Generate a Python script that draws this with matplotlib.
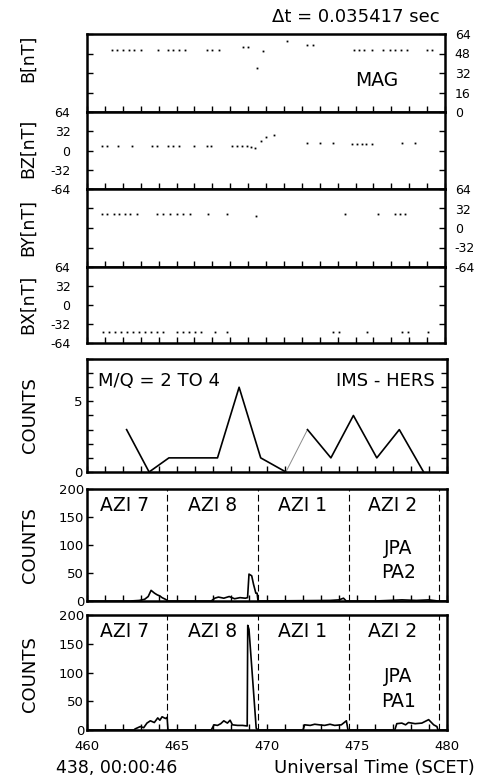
import matplotlib.pyplot as plt

# --- data ---
b_t = [461.4, 461.7, 462.0, 462.35, 462.65, 463.0, 463.95, 464.5, 464.8, 465.15, 465.5,
       466.7, 467.0, 467.35, 468.7, 469.0, 469.5, 469.85, 471.2, 472.3, 472.65,
       474.9, 475.2, 475.5, 475.9, 476.55, 476.9, 477.2, 477.55, 477.9, 479.0, 479.3]
b_v = [51, 51, 51, 51, 51, 51, 51, 51, 51, 51, 51,
       51, 51, 51, 53, 53, 36, 50, 58.5, 55, 55,
       51, 51, 51, 51, 51, 51, 51, 51, 51, 51, 51]

bz_t = [460.82, 461.14, 461.75, 462.49, 463.61, 463.89, 464.54, 464.82, 465.14, 465.98,
        466.72, 466.91, 468.08, 468.36, 468.64, 468.92, 469.14, 469.39, 469.7, 470.0, 470.45,
        472.27, 473.02, 473.76, 474.79, 475.07, 475.35, 475.6, 475.9, 477.58, 478.32]
bz_v = [8, 8, 8, 8, 8, 8, 8, 8, 8, 8,
        8, 8, 7, 7, 7, 7, 6, 4, 15, 22, 25,
        12, 12, 12, 11, 11, 11, 11, 11, 12, 12]

by_t = [460.82, 461.14, 461.5, 461.8, 462.1, 462.4, 462.78, 463.89, 464.26, 464.64,
        465.01, 465.38, 465.75, 466.78, 467.8, 469.44, 474.41, 476.27, 477.2, 477.49, 477.77]
by_v = [23, 23, 23, 23, 23, 23, 23, 23, 23, 23,
        23, 23, 23, 23, 23, 19, 23, 23, 23, 23, 23]

bx_t = [460.88, 461.22, 461.55, 461.89, 462.22, 462.56, 462.89, 463.23, 463.56, 463.9, 464.23,
        465.01, 465.34, 465.68, 466.01, 466.35, 467.15, 467.8,
        473.76, 474.1, 475.62, 477.58, 477.95, 479.07]
bx_v = [-45, -45, -45, -45, -45, -45, -45, -45, -45, -45, -45,
        -45, -45, -45, -45, -45, -45, -45,
        -45, -45, -45, -45, -45, -45]

ims_t = [462.2, 463.45, 464.55, 465.9, 467.25, 468.45, 469.65, 471.05,
         472.25, 473.55, 474.8, 476.1, 477.35, 478.7]
ims_c = [3, 0, 1, 1, 1, 6, 1, 0, 3, 1, 4, 1, 3, 0]

pa2_t = [460.0, 462.4, 462.9, 463.2, 463.4, 463.56, 463.75, 463.9, 464.05, 464.17, 464.36, 464.5,
         466.9, 467.1, 467.3, 467.6, 467.9, 468.2, 468.5, 468.8, 468.92, 469.0, 469.15,
         469.25, 469.38, 469.45, 469.5, 473.5, 474.0, 474.25, 474.4,
         476.0, 476.8, 477.5, 478.3, 479.0, 479.5, 480.0]
pa2_c = [0, 0, 1, 3, 8, 19, 14, 11, 9, 6, 3, 0,
         0, 5, 7, 5, 8, 4, 6, 5, 6, 48, 45,
         30, 14, 14, 0, 1, 2, 5, 0,
         0, 1, 2, 1, 2, 0, 0]

pa1_t = [460.0, 462.6, 462.68, 462.96, 463.15, 463.33, 463.52, 463.74, 463.93, 464.05, 464.17,
         464.36, 464.45, 464.5, 466.9, 467.06, 467.25, 467.43, 467.6, 467.8, 467.95, 468.08,
         468.36, 468.64, 468.9, 468.93, 469.0, 469.4, 469.5,
         472.0, 472.09, 472.4, 472.65, 472.9, 473.2, 473.5, 473.76, 474.13, 474.41, 474.5,
         477.1, 477.21, 477.49, 477.7, 477.86, 478.23, 478.6, 478.98, 479.26, 479.44, 479.5, 480.0]
pa1_c = [0, 0, 2, 6, 4, 12, 16, 13, 21, 17, 23,
         20, 22, 0, 0, 9, 8, 11, 16, 12, 17, 9,
         8, 8, 7, 182, 175, 3, 0,
         0, 9, 8, 10, 9, 8, 10, 8, 9, 16, 0,
         0, 11, 12, 9, 13, 11, 12, 18, 9, 6, 0, 0]

azi_pos = [462.1, 466.95, 471.95, 476.95]
azi_labels = ["AZI 7", "AZI 8", "AZI 1", "AZI 2"]
sector_lines = [464.45, 469.5, 474.55, 479.55]

mag_ticks = [[0, 16, 32, 48, 64], [-64, -32, 0, 32, 64]]

plt.rcParams['font.family'] = ['DejaVu Sans']
plt.rcParams['axes.unicode_minus'] = False
fig = plt.figure(figsize=(4.84, 7.82), dpi=100)


def box(l, t, r, b):
    return [l / 484, 1 - b / 782, (r - l) / 484, (b - t) / 782]


def style(ax, xlabels=False):
    for s in ax.spines.values():
        s.set_linewidth(1.8)
    ax.set_xlim(460, 480)
    ax.set_xticks(range(460, 481))
    if xlabels:
        ax.set_xticklabels([str(v) if v % 5 == 0 else "" for v in range(460, 481)])
    else:
        ax.set_xticklabels([])
    ax.tick_params(axis='x', direction='in', length=4, width=1, top=False,
                   labelsize=9.5, pad=7)


# MAG panels
mag = [
    (box(87, 34, 445, 112), b_t, b_v, (0, 64), mag_ticks[0], 'right', "B[nT]", 58),
    (box(87, 112, 445, 189), bz_t, bz_v, (-64, 64), mag_ticks[1], 'left', "BZ[nT]", 148),
    (box(87, 189, 445, 267), by_t, by_v, (-64, 64), mag_ticks[1], 'right', "BY[nT]", 228),
    (box(87, 267, 445, 343), bx_t, bx_v, (-64, 64), mag_ticks[1], 'left', "BX[nT]", 304),
]
for pos, t, v, yl, yt, side, lab, yc in mag:
    ax = fig.add_axes(pos)
    ax.plot(t, v, ls='none', marker='s', ms=1.3, mew=0, color='k')
    style(ax)
    ax.set_ylim(*yl)
    ax.set_yticks(yt)
    ax.tick_params(axis='y', direction='in', length=4, width=1, left=True, right=True,
                   labelleft=(side == 'left'), labelright=(side == 'right'),
                   labelsize=9, pad=(12 if side == 'left' else 7))
    fig.text(28 / 484, 1 - yc / 782, lab, rotation=90, ha='center', va='center', fontsize=12.5)
    if lab == "B[nT]":
        ax.text(476.2, 26, "MAG", fontsize=13.5, ha='center', va='center')

fig.text(356 / 484, 1 - 17 / 782, "\u0394t = 0.035417 sec", ha='center', va='center', fontsize=13)

# IMS-HERS
ax = fig.add_axes(box(87, 359, 447, 472))
ax.plot(ims_t[:8], ims_c[:8], color='k', lw=1.2)
ax.plot(ims_t[7:9], ims_c[7:9], color='0.55', lw=0.7)
ax.plot(ims_t[8:], ims_c[8:], color='k', lw=1.2)
style(ax)
ax.set_ylim(0, 8)
ax.set_yticks(range(0, 9))
ax.set_yticklabels([str(v) if v in (0, 5) else "" for v in range(0, 9)])
ax.tick_params(axis='y', direction='in', length=4, width=1, right=True,
               labelsize=9.5, pad=3)
ax.text(460.6, 6.45, "M/Q = 2 TO 4", fontsize=13, ha='left', va='center')
ax.text(479.3, 6.45, "IMS - HERS", fontsize=13, ha='right', va='center')
fig.text(30 / 484, 1 - 415 / 782, "COUNTS", rotation=90, ha='center', va='center', fontsize=13)

# JPA panels
for pos, t, c, pa, yc, last in [
    (box(87, 489, 447, 601), pa2_t, pa2_c, "PA2", 545, False),
    (box(87, 615, 447, 730), pa1_t, pa1_c, "PA1", 674, True),
]:
    ax = fig.add_axes(pos)
    ax.plot(t, c, color='k', lw=1.2)
    for x in sector_lines:
        ax.axvline(x, color='k', lw=0.8, ls=(0, (6, 3)))
    style(ax, xlabels=last)
    ax.set_ylim(0, 200)
    ax.set_yticks([0, 50, 100, 150, 200])
    ax.tick_params(axis='y', direction='in', length=4, width=1, labelsize=9.5, pad=2)
    for x, s in zip(azi_pos, azi_labels):
        ax.text(x, 171, s, fontsize=13.5, ha='center', va='center')
    ax.text(477.3, 93, "JPA", fontsize=13.5, ha='center', va='center')
    ax.text(477.3, 50, pa, fontsize=13.5, ha='center', va='center')
    fig.text(30 / 484, 1 - yc / 782, "COUNTS", rotation=90, ha='center', va='center', fontsize=13)

fig.text(117 / 484, 1 - 768 / 782, "438, 00:00:46", ha='center', va='center', fontsize=12.5)
fig.text(374 / 484, 1 - 768 / 782, "Universal Time (SCET)", ha='center', va='center', fontsize=13)

fig.savefig("out.png", dpi=100)
